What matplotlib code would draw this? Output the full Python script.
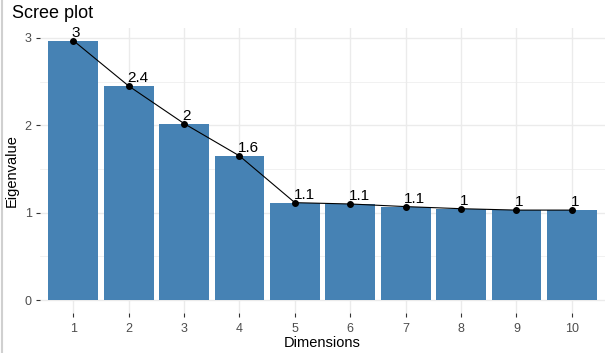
import numpy as np
import matplotlib
matplotlib.use('Agg')
import matplotlib.pyplot as plt
from matplotlib.lines import Line2D

plt.rcParams['font.family'] = ['Liberation Sans', 'DejaVu Sans']

dims = [1, 2, 3, 4, 5, 6, 7, 8, 9, 10]
eigenvalues = [2.97, 2.45, 2.02, 1.65, 1.115, 1.10, 1.07, 1.046, 1.03, 1.03]
labels = ['3', '2.4', '2', '1.6', '1.1', '1.1', '1.1', '1', '1', '1']

fig = plt.figure(figsize=(6.1, 3.53), dpi=100)
ax = fig.add_axes([0.0656, 0.113, 0.9264, 0.809])

grid_c = '#EBEBEB'
ax.set_xlim(0.4, 10.6)
ax.set_ylim(-0.1485, 3.1185)
for y in [0.5, 1.5, 2.5]:
    ax.axhline(y, color=grid_c, lw=0.5, zorder=0)
for y in [0, 1, 2, 3]:
    ax.axhline(y, color=grid_c, lw=1.0, zorder=0)
for x in dims:
    ax.axvline(x, color=grid_c, lw=1.0, zorder=0)

ax.bar(dims, eigenvalues, width=0.9, color='#4682B4', zorder=2)
ax.plot(dims, eigenvalues, color='black', lw=0.8, zorder=3)
ax.scatter(dims, eigenvalues, color='black', s=16, zorder=4)
for x, y, t in zip(dims, eigenvalues, labels):
    ax.annotate(t, (x, y), xytext=(-1, 0.5), textcoords='offset points',
                ha='left', va='bottom', fontsize=11, color='black', zorder=5)

for s in ax.spines.values():
    s.set_visible(False)
ax.set_xticks(dims)
ax.set_yticks([0, 1, 2, 3])
ax.tick_params(axis='both', colors='#333333', labelcolor='#4D4D4D',
               labelsize=9, length=3, width=0.8, pad=4)
ax.tick_params(axis='y', pad=3)
ax.set_xlabel('Dimensions', fontsize=10.5, color='black', labelpad=1)
ax.set_ylabel('Eigenvalue', fontsize=10.5, color='black', labelpad=4)
fig.text(0.02, 0.962, 'Scree plot', fontsize=13, color='black', va='center', ha='left')

fig.add_artist(Line2D([0.004, 0.004], [0, 1], color='#D0D0D0', lw=1.5))

fig.savefig('out.png', dpi=100)
